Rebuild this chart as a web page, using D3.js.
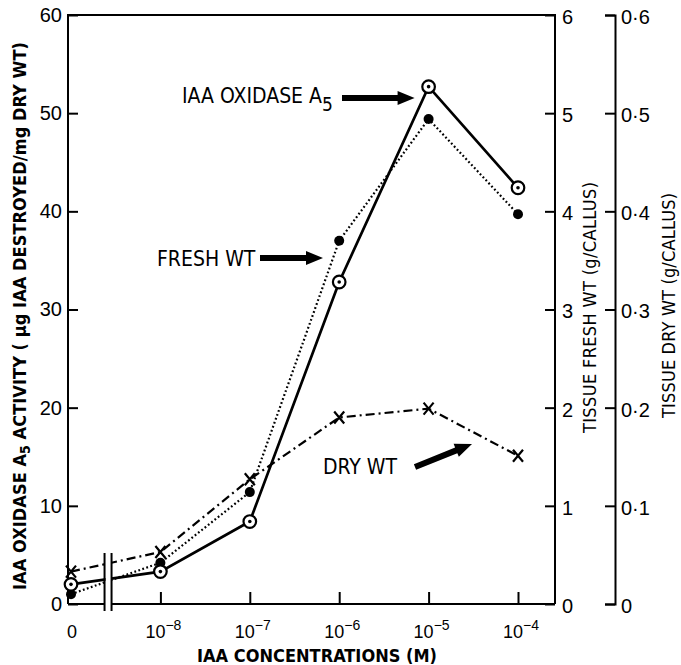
<!DOCTYPE html>
<html>
<head>
<meta charset="utf-8">
<script src="https://cdn.jsdelivr.net/npm/d3@7"></script>
<style>
body { margin: 0; background: #fff; }
text { fill: #000; }
</style>
</head>
<body>
<div id="container"></div>
<script>
var w = 681
var h = 665

// data
var categories = ["0", "1e-8", "1e-7", "1e-6", "1e-5", "1e-4"]
var exponents = [null, "\u22128", "\u22127", "\u22126", "\u22125", "\u22124"]
var oxidase = [2.0, 3.3, 8.4, 32.8, 52.7, 42.4]          // ug IAA destroyed / mg dry wt
var freshWt = [0.10, 0.42, 1.14, 3.70, 4.94, 3.97]       // g / callus
var dryWt = [0.033, 0.053, 0.127, 0.190, 0.199, 0.151]   // g / callus
var leftTicks = [0, 10, 20, 30, 40, 50, 60]
var freshTicks = [0, 1, 2, 3, 4, 5, 6]
var dryTicks = [0, 0.1, 0.2, 0.3, 0.4, 0.5, 0.6]

var font = "'Liberation Sans', Arial, sans-serif"
var narrow = "'Liberation Sans Narrow', 'DejaVu Sans Condensed', 'Liberation Sans', sans-serif"

var svg = d3.select("#container").append("svg")
    .attr("width", w)
    .attr("height", h)
    .style("background-color", "#fff")

var xLeft = 68, xRight = 555, dryX = 615, yTop = 15, yBottom = 604

var x = d3.scalePoint().domain(categories).range([71, 518])
var yL = d3.scaleLinear().domain([0, 60]).range([yBottom, yTop])
var yF = d3.scaleLinear().domain([0, 6]).range([yBottom, yTop])
var yD = d3.scaleLinear().domain([0, 0.6]).range([yBottom, yTop])

// series lines
var lineOx = d3.line().x((d, i) => x(categories[i])).y(d => yL(d))
var lineF = d3.line().x((d, i) => x(categories[i])).y(d => yF(d))
var lineD = d3.line().x((d, i) => x(categories[i])).y(d => yD(d))

svg.append("path").attr("d", lineD(dryWt))
    .attr("fill", "none").attr("stroke", "#000").attr("stroke-width", 2.2)
    .attr("stroke-dasharray", "9,4,2,4")
svg.append("path").attr("d", lineF(freshWt))
    .attr("fill", "none").attr("stroke", "#000").attr("stroke-width", 2.2)
    .attr("stroke-dasharray", "1.8,2.4")
svg.append("path").attr("d", lineOx(oxidase))
    .attr("fill", "none").attr("stroke", "#000").attr("stroke-width", 2.7)

// axis break between 0 and 10^-8
var brk = x(categories[0]) + (x(categories[1]) - x(categories[0])) * 0.42
svg.append("rect").attr("x", brk - 3).attr("y", 540).attr("width", 6).attr("height", 70).attr("fill", "#fff")
svg.selectAll(".brk").data([brk - 4, brk + 3]).enter().append("line")
    .attr("x1", d => d).attr("x2", d => d).attr("y1", 553).attr("y2", 611)
    .attr("stroke", "#000").attr("stroke-width", 2)

// frame
svg.append("path")
    .attr("d", "M" + xLeft + "," + yBottom + "V" + yTop + "H" + xRight + "V" + yBottom)
    .attr("fill", "none").attr("stroke", "#000").attr("stroke-width", 2)
svg.append("line").attr("x1", xLeft).attr("x2", brk - 4).attr("y1", yBottom).attr("y2", yBottom)
    .attr("stroke", "#000").attr("stroke-width", 2)
svg.append("line").attr("x1", brk + 3).attr("x2", xRight).attr("y1", yBottom).attr("y2", yBottom)
    .attr("stroke", "#000").attr("stroke-width", 2)

// markers
svg.selectAll(".dot").data(freshWt).enter().append("circle")
    .attr("cx", (d, i) => x(categories[i])).attr("cy", d => yF(d)).attr("r", 5)
    .attr("fill", "#000")
var ox = svg.selectAll(".ox").data(oxidase).enter().append("g")
    .attr("transform", (d, i) => "translate(" + x(categories[i]) + "," + yL(d) + ")")
ox.append("circle").attr("r", 6.3).attr("fill", "#fff").attr("stroke", "#000").attr("stroke-width", 2.2)
ox.append("circle").attr("r", 1.8).attr("fill", "#000")
svg.selectAll(".cross").data(dryWt).enter().append("path")
    .attr("transform", (d, i) => "translate(" + x(categories[i]) + "," + yD(d) + ")")
    .attr("d", "M-5,-6L5,6M5,-6L-5,6")
    .attr("stroke", "#000").attr("stroke-width", 2.2).attr("fill", "none")

// axes
function styleAxis(g, size) {
    g.selectAll("line").attr("stroke", "#000").attr("stroke-width", 2)
    g.selectAll("path").attr("stroke", "#000").attr("stroke-width", 2)
    g.selectAll("text").style("font-family", font).style("font-size", size + "px").attr("fill", "#000")
}

var gl = svg.append("g").attr("transform", "translate(" + xLeft + ",0)")
    .call(d3.axisLeft(yL).tickValues(leftTicks).tickSize(-10).tickSizeOuter(0).tickPadding(6).tickFormat(d3.format("d")))
styleAxis(gl, 20)
gl.select(".domain").remove()

var gf = svg.append("g").attr("transform", "translate(" + xRight + ",0)")
    .call(d3.axisRight(yF).tickValues(freshTicks).tickSize(-10).tickSizeOuter(0).tickPadding(7).tickFormat(d3.format("d")))
styleAxis(gf, 20)
gf.select(".domain").remove()
gf.selectAll("text").attr("dy", "0.42em")

var gd = svg.append("g").attr("transform", "translate(" + dryX + ",0)")
    .call(d3.axisRight(yD).tickValues(dryTicks).tickSize(-10).tickSizeOuter(-10).tickPadding(6)
        .tickFormat(d => d === 0 ? "0" : d3.format(".1f")(d).replace(".", "\u00b7")))
styleAxis(gd, 20)
gd.select(".domain").attr("fill", "none")
gd.selectAll("text").attr("dy", "0.42em")

var gb = svg.append("g").attr("transform", "translate(0," + yBottom + ")")
    .call(d3.axisBottom(x).tickValues(categories.slice(1)).tickSize(-12).tickSizeOuter(0))
styleAxis(gb, 18)
gb.select(".domain").remove()
gb.selectAll("text").remove()

var bl = svg.selectAll(".blab").data(categories).enter().append("text")
    .attr("x", (d, i) => x(d) + (i === 0 ? 1 : 3))
    .attr("y", 638)
    .attr("text-anchor", "middle")
    .style("font-family", font)
    .style("font-size", "18px")
bl.append("tspan").text((d, i) => i === 0 ? "0" : "10")
bl.filter((d, i) => i > 0).append("tspan")
    .attr("dy", -8).style("font-size", "14px")
    .text((d, i) => exponents[i + 1])

// axis titles
svg.append("text")
    .attr("x", 197).attr("y", 662)
    .attr("textLength", 240).attr("lengthAdjust", "spacing")
    .style("font-family", narrow).style("font-size", "18px").style("font-weight", "bold")
    .text("IAA CONCENTRATIONS (M)")

var lt = svg.append("text")
    .attr("transform", "translate(26,590) rotate(-90)")
    .attr("textLength", 548).attr("lengthAdjust", "spacing")
    .style("font-family", narrow).style("font-size", "18px").style("font-weight", "bold")
lt.append("tspan").text("IAA OXIDASE A")
lt.append("tspan").attr("dy", 4).style("font-size", "14px").text("5")
lt.append("tspan").attr("dy", -4).text(" ACTIVITY ( \u03bcg IAA DESTROYED/mg DRY WT)")

svg.append("text")
    .attr("transform", "translate(596,433) rotate(-90)")
    .attr("textLength", 251).attr("lengthAdjust", "spacing")
    .style("font-family", narrow).style("font-size", "18px")
    .text("TISSUE FRESH WT (g/CALLUS)")

svg.append("text")
    .attr("transform", "translate(675,418) rotate(-90)")
    .attr("textLength", 225).attr("lengthAdjust", "spacing")
    .style("font-family", narrow).style("font-size", "18px")
    .text("TISSUE DRY WT (g/CALLUS)")

// annotations with thick arrows
function arrow(x1, y1, x2, y2) {
    var dx = x2 - x1, dy = y2 - y1, L = Math.sqrt(dx * dx + dy * dy)
    var ux = dx / L, uy = dy / L, nx = -uy, ny = ux
    var sw = 3, hl = 17, hw = 7
    var bx = x2 - ux * hl, by = y2 - uy * hl
    var pts = [
        [x1 + nx * sw, y1 + ny * sw], [bx + nx * sw, by + ny * sw], [bx + nx * hw, by + ny * hw],
        [x2, y2],
        [bx - nx * hw, by - ny * hw], [bx - nx * sw, by - ny * sw], [x1 - nx * sw, y1 - ny * sw]
    ]
    return "M" + pts.map(p => p.join(",")).join("L") + "Z"
}

var ann = svg.append("text").attr("x", 182).attr("y", 103)
    .style("font-family", narrow).style("font-size", "21px")
ann.append("tspan").text("IAA OXIDASE A")
ann.append("tspan").attr("dy", 8).style("font-size", "19px").text("5")
svg.append("path").attr("d", arrow(342, 98, x(categories[4]) - 14, 98)).attr("fill", "#000")

svg.append("text").attr("x", 157).attr("y", 266)
    .style("font-family", narrow).style("font-size", "21px")
    .text("FRESH WT")
svg.append("path").attr("d", arrow(260, 258, 323, 258)).attr("fill", "#000")

svg.append("text").attr("x", 323).attr("y", 474)
    .style("font-family", narrow).style("font-size", "21px")
    .text("DRY WT")
svg.append("path").attr("d", arrow(415, 467, 472, 444)).attr("fill", "#000")
</script>
</body>
</html>
